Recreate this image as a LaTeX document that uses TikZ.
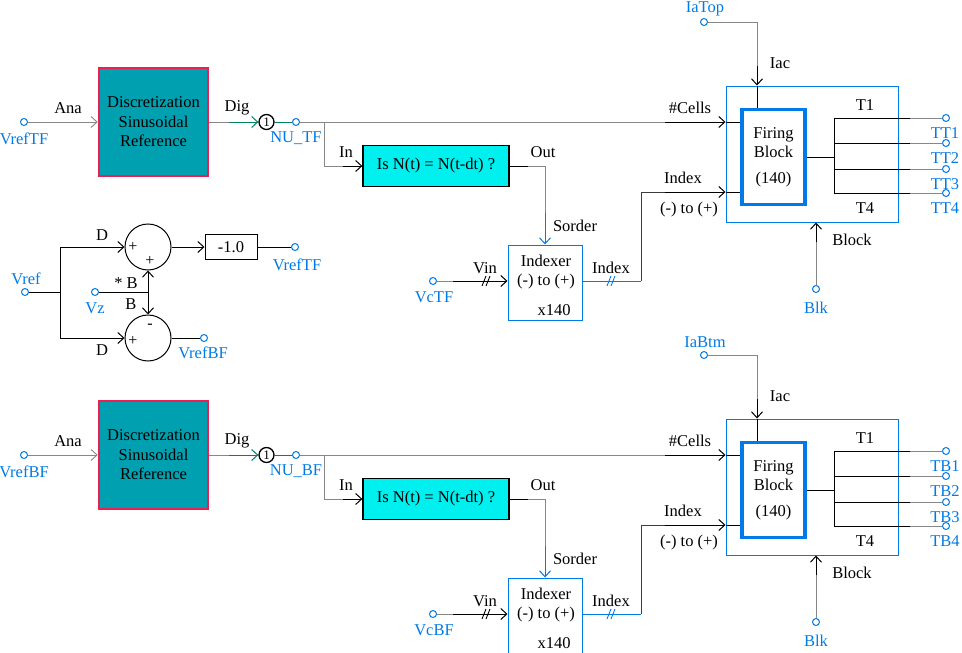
\documentclass[tikz,border=0pt]{standalone}
\usepackage{fontspec}
\setmainfont{Liberation Serif}
\usetikzlibrary{arrows.meta,positioning}
\definecolor{psblue}{RGB}{0,122,230}
\definecolor{pswire}{RGB}{135,135,135}
\definecolor{psdark}{RGB}{60,60,60}
\definecolor{psteal}{RGB}{0,160,176}
\definecolor{psred}{RGB}{236,30,82}
\definecolor{pscyan}{RGB}{0,240,240}
\definecolor{psgreen}{RGB}{0,130,100}
\tikzstyle{wire} = [draw=pswire, line width=0.9pt]
\tikzstyle{port} = [draw=black, line width=1pt]
\tikzstyle{bluewire} = [draw=psblue, line width=1pt]
\tikzstyle{term} = [circle, draw=psblue, fill=white, line width=1pt, inner sep=0pt, minimum size=7pt]
\tikzstyle{tlabel} = [text=psblue, inner sep=0pt, align=center]
\tikzstyle{plabel} = [inner sep=0pt, align=center]
\tikzstyle{signlabel} = [inner sep=0pt, font=\fontsize{16}{16}\selectfont]
\tikzstyle{discbox} = [rectangle, draw=psred, fill=psteal, line width=2.6pt, minimum width=109pt, minimum height=108pt, align=center]
\tikzstyle{checkbox} = [rectangle, draw=black, fill=pscyan, line width=1.3pt, minimum width=146pt, minimum height=41pt]
\tikzstyle{idxbox} = [rectangle, draw=psblue, line width=1pt, minimum width=74pt, minimum height=75pt]
\tikzstyle{outerbox} = [rectangle, draw=psblue, line width=1pt, minimum width=172pt, minimum height=136pt]
\tikzstyle{firebox} = [rectangle, draw=psblue, line width=3.6pt, minimum width=63pt, minimum height=95pt, align=center]
\tikzstyle{sumnode} = [circle, draw=black, line width=1pt, minimum size=46pt, inner sep=0pt]
\tikzstyle{gainbox} = [rectangle, draw=black, line width=1pt, minimum width=52pt, minimum height=25pt]
\tikzstyle{counter} = [circle, draw=black, line width=1.3pt, minimum size=15pt, inner sep=0pt, font=\fontsize{13}{13}\selectfont]
\tikzset{bus/.pic={\draw[line width=0.9pt] (-4,5) -- (0,-5) (0,5) -- (4,-5);}}

\begin{document}
\begin{tikzpicture}[x=1pt, y=-1pt, font=\fontsize{16.5}{19.5}\selectfont, >={Straight Barb[length=6pt,width=11pt]}]
\useasboundingbox (0,0) rectangle (962,653);

% reference split into top and bottom
\node[term] (vref) at (25,292) {};
\node[tlabel] at (26,279) {Vref};
\node[sumnode] (sumtop) at (148,247) {};
\node[sumnode] (sumbtm) at (148,338) {};
\node[signlabel] at (133,247) {+};
\node[signlabel] at (150,261) {+};
\node[signlabel] at (150,326) {-};
\node[signlabel] at (133,341) {+};
\coordinate (split) at (60,292);
\draw[port] (vref) -- (split);
\draw[port, ->] (split) |- (sumtop);
\draw[port, ->] (split) |- (sumbtm);
\node[plabel] at (102,235) {D};
\node[plabel] at (102,350) {D};
\node[term] (vz) at (95,292) {};
\node[tlabel] at (95,308) {Vz};
\coordinate (vzj) at (148,292);
\draw[port] (vz) -- (vzj);
\draw[port, ->] (vzj) -- (sumtop);
\draw[port, ->] (vzj) -- (sumbtm);
\node[plabel] at (126,283) {* B};
\node[plabel] at (131,304) {B};
\node[gainbox] (gain) at (231,247) {-1.0};
\draw[port, ->] (sumtop) -- (gain);
\node[term] (vreftf) at (295,247) {};
\draw[port] (gain) -- (vreftf);
\node[tlabel] at (297,265) {VrefTF};
\node[term] (vrefbf) at (204,338) {};
\draw[port] (sumbtm) -- (vrefbf);
\node[tlabel] at (203,353) {VrefBF};

% top and bottom firing chains
\foreach \dy/\half/\ia/\tp in {0/TF/IaTop/TT, 333/BF/IaBtm/TB} {
\begin{scope}[shift={(0,\dy)}]
\node[term] (vin\half) at (24,122) {};
\node[tlabel] at (24,139) {Vref\half};
\node[discbox] (disc\half) at (153.5,122) {Discretization\\Sinusoidal\\Reference};
\draw[wire, ->] (vin\half) -- (disc\half);
\node[plabel] at (68,108) {Ana};
\node[counter] (cnt\half) at (266.5,122) {1};
\coordinate (dig\half) at (229,122);
\draw[wire] (disc\half) -- (dig\half);
\draw[port, draw=psgreen, ->] (dig\half) -- (cnt\half);
\node[plabel] at (237,108) {Dig};
\node[term] (nu\half) at (296,122) {};
\draw[port, draw=psgreen] (cnt\half) -- (nu\half);
\node[tlabel] at (296,138) {NU\_\half};
% firing block
\node[outerbox] (outer\half) at (812,154) {};
\node[firebox] (fire\half) at (773.5,157) {Firing\\Block\\[6pt](140)};
\coordinate (jn\half) at (324,122);
\coordinate (cw\half) at (665,122);
\draw[wire] (nu\half) -- (cw\half);
\draw[port, ->] (cw\half) -- (outer\half.west |- cw\half);
\draw[port] (outer\half.west |- cw\half) -- (fire\half.west |- cw\half);
\node[plabel] at (690,108) {\#Cells};
% change check
\coordinate (inw\half) at (343,166);
\draw[wire] (jn\half) |- (inw\half);
\node[checkbox] (chk\half) at (436,166) {Is N(t) = N(t-dt) ?};
\draw[port, ->] (inw\half) -- (chk\half);
\node[plabel] at (346,152) {In};
\node[plabel] at (543,152) {Out};
\coordinate (outw\half) at (528,166);
\draw[port] (chk\half) -- (outw\half);
\node[idxbox] (idx\half) at (545,282.5) {};
\coordinate (sord\half) at (545,213);
\draw[wire] (outw\half) -| (sord\half);
\draw[bluewire, ->] (sord\half) -- (idx\half.north -| sord\half);
\node[plabel] at (575,226) {Sorder};
\node[plabel] at (546,272) {Indexer\\(-) to (+)};
\node[plabel] at (554,310) {x140};
% capacitor voltages in
\node[term] (vc\half) at (433,281) {};
\node[tlabel] at (434,297) {Vc\half};
\coordinate (vcw\half) at (453,281);
\draw[wire] (vc\half) -- (vcw\half);
\draw[port, ->] (vcw\half) -- (idx\half.west |- vcw\half);
\pic at (486,281) {bus};
\node[plabel] at (485,268) {Vin};
% index out
\coordinate (ixc\half) at (641,281);
\draw[bluewire] (idx\half.east |- vcw\half) -- (ixc\half);
\pic[psblue] at (611,281) {bus};
\node[plabel] at (611,268) {Index};
\coordinate (ixw\half) at (665,192);
\draw[wire, draw=psdark] (ixc\half) |- (ixw\half);
\draw[port, ->] (ixw\half) -- (outer\half.west |- ixw\half);
\draw[port] (outer\half.west |- ixw\half) -- (fire\half.west |- ixw\half);
\node[plabel] at (683,178) {Index};
\node[plabel] at (689,210) {(-) to (+)};
% arm current
\node[term] (ia\half) at (704,22) {};
\node[tlabel] at (705,9) {\ia};
\coordinate (iaw\half) at (757,66);
\draw[wire] (ia\half) -| (iaw\half);
\draw[port, ->] (iaw\half) -- (outer\half.north -| iaw\half);
\draw[port] (outer\half.north -| iaw\half) -- (fire\half.north -| iaw\half);
\node[plabel] at (780,63) {Iac};
% pulses out
\coordinate (fo\half) at (834,157);
\coordinate (bt\half) at (834,118);
\coordinate (bb\half) at (834,193);
\draw[port] (fire\half.east |- fo\half) -- (fo\half);
\draw[port] (bt\half) -- (bb\half);
\foreach \k/\yo in {1/118,2/143,3/169,4/193} {
  \node[term] (\tp\k) at (946,\yo) {};
  \coordinate (ow\tp\k) at (910,\yo);
  \draw[port] (bt\half |- ow\tp\k) -- (ow\tp\k);
  \draw[wire] (ow\tp\k) -- (\tp\k);
  \node[tlabel] at (945,\yo+15) {\tp\k};
}
\node[plabel] at (865,105) {T1};
\node[plabel] at (865,208) {T4};
% block signal
\node[term] (blk\half) at (816,289) {};
\node[tlabel] at (816,308) {Blk};
\coordinate (bw\half) at (816,242);
\draw[wire] (blk\half) -- (bw\half);
\draw[port, ->] (bw\half) -- (outer\half.south -| bw\half);
\node[plabel] at (852,240) {Block};
\end{scope}
}
\end{tikzpicture}
\end{document}
